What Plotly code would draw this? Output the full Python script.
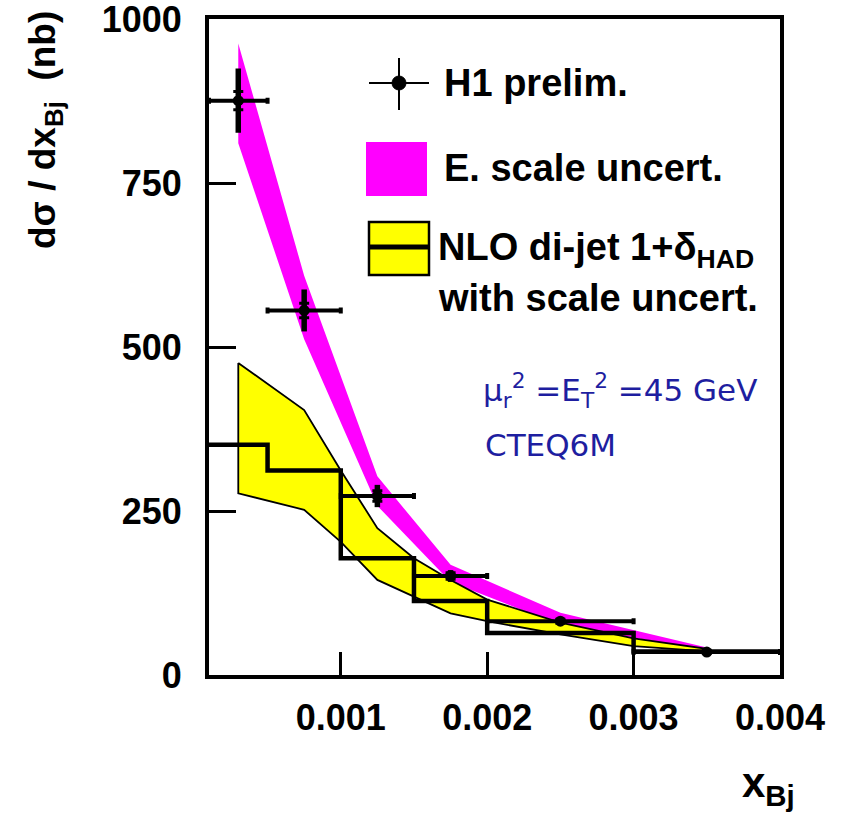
import plotly.graph_objects as go

# ---------------- data ----------------
# H1 preliminary data points
data_x = [0.0003, 0.00075, 0.00125, 0.00175, 0.0025, 0.0035]
data_y = [876, 556, 273, 151, 82, 35]
data_xerr = [0.0002, 0.00025, 0.00025, 0.00025, 0.0005, 0.0005]
data_yerr_tot = [49, 32, 17, 9, 5, 4]
data_yerr_stat = [14, 11, 8, 5, 3, 2]

# Energy-scale uncertainty band (magenta)
escale_x = [0.0003, 0.00075, 0.00125, 0.00175, 0.0025, 0.0035]
escale_hi = [963, 609, 303, 168, 95, 42]
escale_lo = [811, 512, 258, 142, 76, 38]

# NLO scale uncertainty band (yellow)
nlo_band_x = [0.0003, 0.00075, 0.001, 0.00125, 0.0015, 0.00175, 0.002, 0.0025, 0.003, 0.0035]
nlo_band_hi = [476, 404, 312, 224, 178, 145, 115, 80, 56, 40]
nlo_band_lo = [277, 252, 203, 145, 119, 94, 82, 62, 44, 36]

# NLO central prediction histogram
nlo_edges = [0.0001, 0.0005, 0.001, 0.0015, 0.002, 0.003, 0.004]
nlo_vals = [351, 312, 178, 113, 64, 36]

x_ticks = [0.001, 0.002, 0.003, 0.004]
x_ticktext = ["0.001", "0.002", "0.003", "0.004"]
y_ticks = [0, 250, 500, 750, 1000]
y_ticktext = ["0", "250", "500", "750", "1000"]

# ---------------- layout geometry (page pixels) ----------------
W, H = 842, 817
L, R, T, B = 209, 780, 19, 675   # plot-area edges in page pixels


def px(xp):
    return (xp - L) / (R - L)


def py(yp):
    return (B - yp) / (B - T)


BOLD = "Liberation Sans, Arial, sans-serif"

fig = go.Figure()

# magenta band
fig.add_trace(go.Scatter(
    x=escale_x + escale_x[::-1],
    y=escale_hi + escale_lo[::-1],
    fill="toself", fillcolor="#ff00ff",
    line=dict(width=0), mode="lines", hoverinfo="skip", showlegend=False))

# yellow band with black outline
fig.add_trace(go.Scatter(
    x=nlo_band_x + nlo_band_x[::-1] + [nlo_band_x[0]],
    y=nlo_band_hi + nlo_band_lo[::-1] + [nlo_band_hi[0]],
    fill="toself", fillcolor="#ffff00",
    line=dict(width=1.8, color="black"), mode="lines", hoverinfo="skip", showlegend=False))

# NLO histogram
fig.add_trace(go.Scatter(
    x=nlo_edges, y=nlo_vals + [nlo_vals[-1]],
    mode="lines", line=dict(shape="hv", width=4.5, color="black"),
    hoverinfo="skip", showlegend=False))

# data: total errors
fig.add_trace(go.Scatter(
    x=data_x, y=data_y, mode="markers",
    marker=dict(size=11, color="black", symbol="circle"),
    error_x=dict(type="data", array=data_xerr, color="black", thickness=4, width=3),
    error_y=dict(type="data", array=data_yerr_tot, color="black", thickness=5.5, width=0),
    showlegend=False))

# data: stat error ticks
fig.add_trace(go.Scatter(
    x=data_x, y=data_y, mode="markers",
    marker=dict(size=1, color="black"),
    error_y=dict(type="data", array=data_yerr_stat, color="black", thickness=3, width=5),
    showlegend=False))

shapes = []
# legend: H1 marker
shapes.append(dict(type="line", xref="paper", yref="paper",
                   x0=px(369), x1=px(429), y0=py(83), y1=py(83),
                   line=dict(color="black", width=2)))
shapes.append(dict(type="line", xref="paper", yref="paper",
                   x0=px(399), x1=px(399), y0=py(58), y1=py(110),
                   line=dict(color="black", width=2)))
shapes.append(dict(type="circle", xref="paper", yref="paper",
                   x0=px(392), x1=px(406), y0=py(76), y1=py(90),
                   fillcolor="black", line=dict(color="black", width=1)))
# legend: magenta box
shapes.append(dict(type="rect", xref="paper", yref="paper",
                   x0=px(366), x1=px(427), y0=py(196), y1=py(142),
                   fillcolor="#ff00ff", line=dict(width=0)))
# legend: yellow box
shapes.append(dict(type="rect", xref="paper", yref="paper",
                   x0=px(369), x1=px(429), y0=py(275), y1=py(222),
                   fillcolor="#ffff00", line=dict(color="black", width=2.5)))
shapes.append(dict(type="line", xref="paper", yref="paper",
                   x0=px(369), x1=px(429), y0=py(247), y1=py(247),
                   line=dict(color="black", width=5)))

annotations = []


def ann(text, xp, yp, size, color="black", family=BOLD, xanchor="left", yanchor="middle", angle=0):
    annotations.append(dict(text=text, xref="paper", yref="paper", x=px(xp), y=py(yp),
                            xanchor=xanchor, yanchor=yanchor, showarrow=False,
                            textangle=angle,
                            font=dict(size=size, color=color, family=family)))


ann("<b>H1 prelim.</b>", 442, 83, 38)
ann("<b>E. scale uncert.</b>", 442, 168, 38)
ann("<b>NLO di-jet 1+δ<sub>HAD</sub></b>", 436, 250, 38)
ann("<b>with scale uncert.</b>", 436, 298, 38)

BLUE = "#1e1ea0"
ann("μ<sub>r</sub><sup>2</sup> =E<sub>T</sub><sup>2</sup> =45 GeV", 481, 390, 31, color=BLUE,
    family="DejaVu Sans, sans-serif")
ann("CTEQ6M", 483, 445, 31, color=BLUE, family="DejaVu Sans, sans-serif")

# axis titles
ann("<b>dσ / dx<sub>Bj</sub>  (nb)</b>", 45, 9, 37, xanchor="center", yanchor="top", angle=-90)
ann("<b>x<sub>Bj</sub></b>", 768, 814, 42, xanchor="center", yanchor="bottom")

fig.update_layout(
    width=W, height=H,
    margin=dict(l=L, r=W - R, t=T, b=H - B, autoexpand=False),
    paper_bgcolor="white", plot_bgcolor="white",
    shapes=shapes, annotations=annotations,
    showlegend=False,
    xaxis=dict(range=[0.0001, 0.004], tickvals=x_ticks,
               ticktext=["<b>%s</b>" % t for t in x_ticktext],
               ticks="inside", ticklen=23, tickwidth=3, tickcolor="black",
               showline=True, linewidth=4, linecolor="black", mirror=True,
               showgrid=False, zeroline=False, ticklabelstandoff=8,
               ticklabeloverflow="allow", automargin=False,
               tickfont=dict(size=36, family=BOLD, color="black")),
    yaxis=dict(range=[0, 1000.5], tickvals=y_ticks,
               ticktext=["<b>%s</b>" % t for t in y_ticktext],
               ticks="inside", ticklen=27, tickwidth=3, tickcolor="black",
               showline=True, linewidth=4, linecolor="black", mirror=True,
               showgrid=False, zeroline=False, ticklabelstandoff=16,
               ticklabeloverflow="allow", automargin=False,
               tickfont=dict(size=36, family=BOLD, color="black")),
)

fig.write_html(
    "out.html",
    config={"displayModeBar": False},
    post_script="document.body.style.margin='0';document.body.style.overflow='hidden';",
)
